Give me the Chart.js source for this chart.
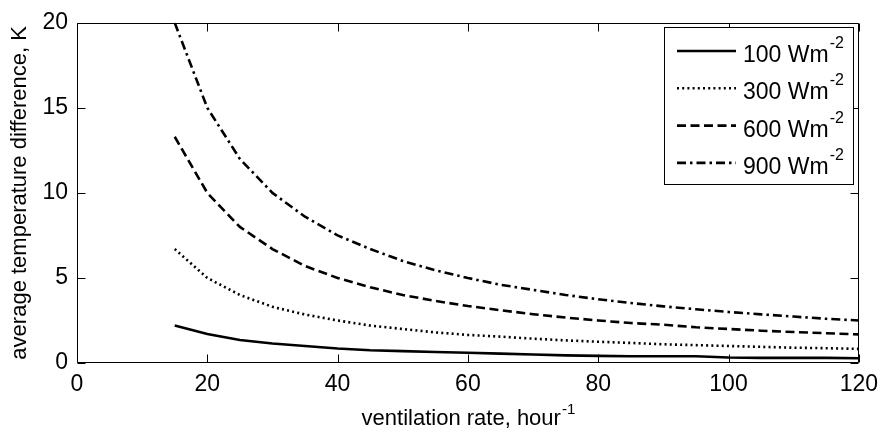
<!DOCTYPE html>
<html>
<head>
<meta charset="utf-8">
<script src="https://cdn.jsdelivr.net/npm/chart.js@4.4.1/dist/chart.umd.min.js"></script>
<style>
html,body{margin:0;padding:0;background:#fff;}
#wrap{width:886px;height:433px;}
</style>
</head>
<body>
<div id="wrap"><canvas id="c" width="886" height="433"></canvas></div>
<script>
// ventilation rate, hour^-1
const ventRate = [15,20,25,30,35,40,45,50,55,60,65,70,75,80,85,90,95,100,105,110,115,120];
// average temperature difference, K
const dT100 = [2.2,1.7,1.35,1.15,1.0,0.85,0.75,0.7,0.65,0.6,0.55,0.5,0.45,0.42,0.4,0.4,0.4,0.32,0.3,0.3,0.3,0.28];
const dT300 = [6.7,5.0,4.0,3.3,2.85,2.5,2.2,2.0,1.8,1.65,1.55,1.43,1.33,1.25,1.18,1.1,1.05,1.0,0.95,0.9,0.87,0.83];
const dT600 = [13.3,10.0,8.0,6.7,5.7,5.0,4.45,4.0,3.65,3.35,3.1,2.87,2.67,2.5,2.35,2.25,2.1,2.0,1.9,1.82,1.75,1.68];
const dT900 = [20.0,15.0,12.0,10.0,8.6,7.5,6.7,6.0,5.45,5.0,4.6,4.3,4.0,3.75,3.53,3.33,3.16,3.0,2.86,2.73,2.6,2.5];
const seriesNames = ["100","300","600","900"];
const xTicks = [0,20,40,60,80,100,120];
const yTicks = [0,5,10,15,20];

const FONT = '"Liberation Sans", Arial, Helvetica, sans-serif';
const toPts = (ys) => ventRate.map((x,i)=>({x:x,y:ys[i]}));
const styles = [
  {dash:[], w:2.6},
  {dash:[2,3.2], w:2.6},
  {dash:[9,4.5], w:2.6},
  {dash:[9,4,2.5,4], w:2.6}
];
const allData = [dT100,dT300,dT600,dT900];

const datasets = allData.map((d,i)=>({
  label: seriesNames[i] + ' Wm',
  data: toPts(d),
  borderColor:'#000',
  borderWidth: styles[i].w,
  borderDash: styles[i].dash,
  borderCapStyle:'butt',
  pointRadius:0,
  tension:0,
  fill:false
}));

const matlabPlugin = {
  id:'matlab',
  afterDraw(chart){
    const ctx = chart.ctx;
    const xs = chart.scales.x, ys = chart.scales.y;
    const a = chart.chartArea;
    ctx.save();
    ctx.strokeStyle = '#000';
    ctx.lineWidth = 1;
    ctx.setLineDash([]);
    const L = Math.round(a.left)+0.5, R = Math.round(a.right)-0.5, T = Math.round(a.top)+0.5, B = Math.round(a.bottom)-0.5;
    ctx.beginPath();
    ctx.rect(L, T, R-L, B-T);
    ctx.stroke();
    const tl = 8;
    ctx.beginPath();
    xTicks.forEach(v=>{
      const p = Math.round(xs.getPixelForValue(v))+0.5;
      ctx.moveTo(p,B); ctx.lineTo(p,B-tl);
      ctx.moveTo(p,T); ctx.lineTo(p,T+tl);
    });
    yTicks.forEach(v=>{
      const p = Math.round(ys.getPixelForValue(v))+0.5;
      ctx.moveTo(L,p); ctx.lineTo(L+tl,p);
      ctx.moveTo(R,p); ctx.lineTo(R-tl,p);
    });
    ctx.stroke();

    // axis titles
    ctx.fillStyle = '#000';
    ctx.textBaseline = 'alphabetic';
    const xt = 'ventilation rate, hour';
    const xs1 = '-1';
    ctx.font = '22px ' + FONT;
    const w1 = ctx.measureText(xt).width;
    ctx.font = '15px ' + FONT;
    const w2 = ctx.measureText(xs1).width;
    const cx = (a.left + a.right)/2;
    const sx = cx - (w1+w2)/2;
    ctx.font = '22px ' + FONT;
    ctx.textAlign = 'left';
    ctx.fillText(xt, sx, 425);
    ctx.font = '15px ' + FONT;
    ctx.fillText(xs1, sx + w1 + 1, 414);

    ctx.save();
    ctx.translate(26, (a.top + a.bottom)/2);
    ctx.rotate(-Math.PI/2);
    ctx.font = '22px ' + FONT;
    ctx.textAlign = 'center';
    ctx.fillText('average temperature difference, K', 0, 0);
    ctx.restore();

    // legend
    const bx = 664.5, by = 27.5, bw = 189, bh = 157;
    ctx.fillStyle = '#fff';
    ctx.fillRect(bx, by, bw, bh);
    ctx.strokeStyle = '#000';
    ctx.lineWidth = 1;
    ctx.setLineDash([]);
    ctx.strokeRect(bx, by, bw, bh);
    chart.data.datasets.forEach((ds,i)=>{
      const ly = 51 + i*37.3;
      ctx.beginPath();
      ctx.lineWidth = ds.borderWidth;
      ctx.lineCap = 'butt';
      ctx.setLineDash(ds.borderDash);
      ctx.moveTo(677, ly);
      ctx.lineTo(736, ly);
      ctx.stroke();
      ctx.setLineDash([]);
      ctx.fillStyle = '#000';
      ctx.font = '23px ' + FONT;
      ctx.textAlign = 'left';
      ctx.fillText(ds.label, 743, ly + 11);
      const lw = ctx.measureText(ds.label).width;
      ctx.font = '16px ' + FONT;
      ctx.fillText('-2', 743 + lw + 1, ly - 3);
    });
    ctx.restore();
  }
};

new Chart(document.getElementById('c'), {
  type:'line',
  data:{datasets:datasets},
  options:{
    responsive:false,
    animation:false,
    devicePixelRatio:1,
    layout:{padding:{top:17,right:24,left:0,bottom:0}},
    plugins:{legend:{display:false},tooltip:{enabled:false}},
    scales:{
      x:{
        type:'linear', min:0, max:120,
        afterBuildTicks(s){ s.ticks = xTicks.map(v=>({value:v})); },
        afterFit(s){ s.height = 70; },
        grid:{display:false, drawTicks:false},
        border:{display:false},
        ticks:{color:'#000', font:{family:FONT, size:23}, padding:8, maxRotation:0, autoSkip:false}
      },
      y:{
        type:'linear', min:0, max:20,
        afterBuildTicks(s){ s.ticks = yTicks.map(v=>({value:v})); },
        afterFit(s){ s.width = 77; },
        grid:{display:false, drawTicks:false},
        border:{display:false},
        ticks:{color:'#000', font:{family:FONT, size:23}, padding:9, autoSkip:false}
      }
    }
  },
  plugins:[matlabPlugin]
});
</script>
</body>
</html>
